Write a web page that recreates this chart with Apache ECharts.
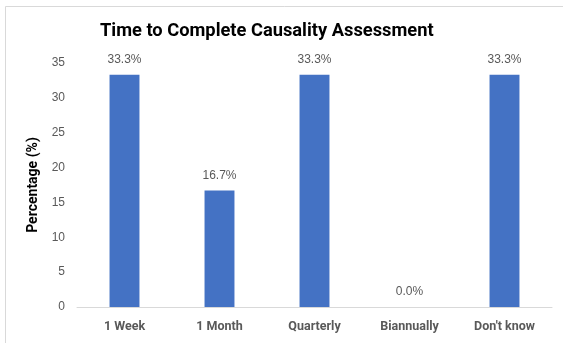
<!DOCTYPE html>
<html>
<head>
<meta charset="utf-8">
<script src="https://cdn.jsdelivr.net/npm/echarts@6/dist/echarts.min.js"></script>
<style>
  html, body { margin: 0; padding: 0; background: #fff; }
  #chart { width: 563px; height: 343px; }
</style>
</head>
<body>
<div id="chart"></div>
<script>
// Survey responses: how long causality assessment takes to complete
const categories = ['1 Week', '1 Month', 'Quarterly', 'Biannually', "Don't know"];
const percentages = [33.3, 16.7, 33.3, 0.0, 33.3];
const yTicks = [0, 5, 10, 15, 20, 25, 30, 35];

const chart = echarts.init(document.getElementById('chart'));

chart.setOption({
  animation: false,
  backgroundColor: '#ffffff',
  graphic: [{
    type: 'rect',
    shape: { x: 5.5, y: 6.5, width: 600, height: 400 },
    style: { fill: 'none', stroke: '#d9d9d9', lineWidth: 1 },
    silent: true
  }],
  title: {
    text: 'Time to Complete Causality Assessment',
    left: 100,
    top: 22,
    padding: 0,
    textStyle: {
      fontFamily: 'Roboto, sans-serif',
      fontSize: 18.3,
      fontWeight: 'bold',
      color: '#000000'
    }
  },
  grid: { left: 77, right: 11, top: 63, bottom: 36, containLabel: false },
  xAxis: {
    type: 'category',
    data: categories,
    axisLine: { lineStyle: { color: '#d9d9d9', width: 1 } },
    axisTick: { show: false },
    axisLabel: {
      margin: 13,
      fontFamily: 'Roboto, sans-serif',
      fontSize: 12.5,
      fontWeight: 'bold',
      color: '#595959'
    }
  },
  yAxis: {
    type: 'value',
    min: yTicks[0],
    max: yTicks[yTicks.length - 1],
    interval: 5,
    name: 'Percentage (%)',
    nameLocation: 'middle',
    nameGap: 37,
    nameTextStyle: {
      fontFamily: 'Roboto, sans-serif',
      fontSize: 14,
      fontWeight: 'bold',
      color: '#000000'
    },
    axisLine: { show: false },
    axisTick: { show: false },
    splitLine: { show: false },
    axisLabel: {
      margin: 12,
      fontFamily: '"Liberation Sans", Arial, sans-serif',
      fontSize: 12,
      color: '#595959'
    }
  },
  series: [{
    type: 'bar',
    data: percentages,
    barWidth: '31.5%',
    itemStyle: { color: '#4472c4' },
    label: {
      show: true,
      position: 'top',
      distance: 9,
      formatter: p => p.value.toFixed(1) + '%',
      fontFamily: '"Liberation Sans", Arial, sans-serif',
      fontSize: 12,
      color: '#595959'
    }
  }]
});
</script>
</body>
</html>
